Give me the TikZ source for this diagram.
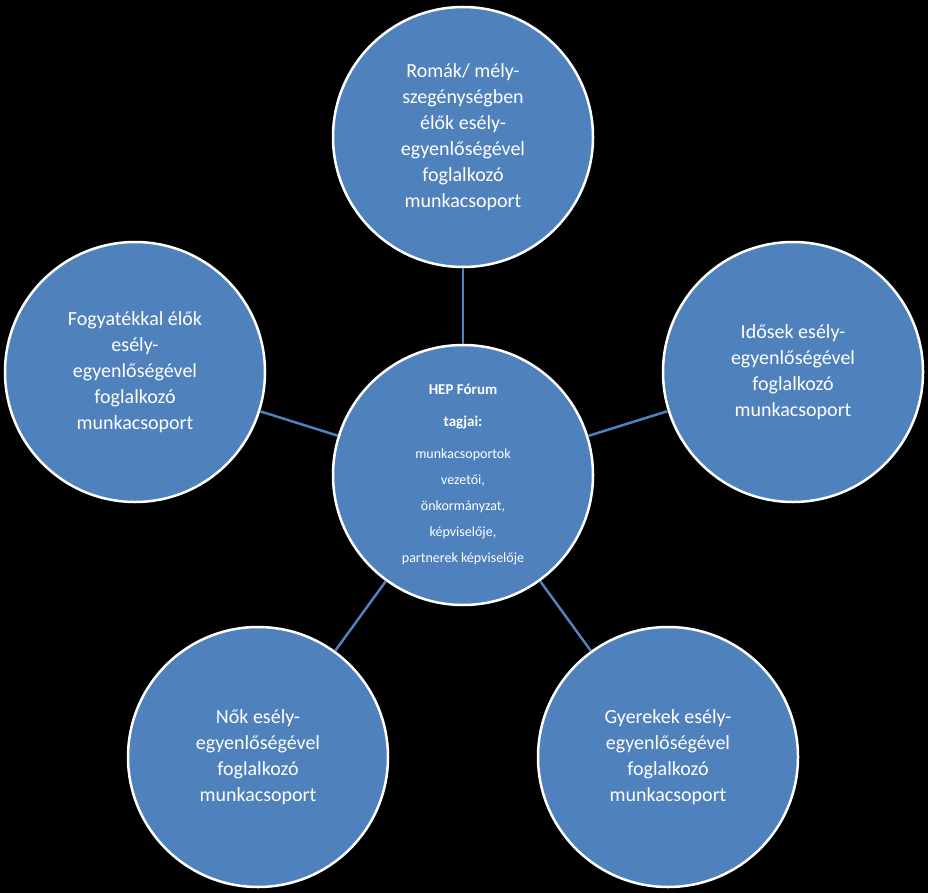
\documentclass[tikz,border=0pt]{standalone}
\usepackage{fontspec}
\setmainfont{Carlito}
\definecolor{cblue}{HTML}{4F81BD}
\begin{document}
\begin{tikzpicture}[x=1pt,y=-1pt,
  circ/.style={circle,fill=cblue,draw=white,line width=2.5pt,minimum size=260pt,inner sep=0pt,text=white,align=center,font=\fontsize{20}{26}\selectfont},
  link/.style={draw=cblue,line width=2.5pt}]
\fill[black] (0,0) rectangle (928,893);
\useasboundingbox (0,0) rectangle (928,893);
\node[circ] (c) at (463,475) {\fontsize{15}{18}\selectfont\textbf{HEP Fórum}\\[6pt]\fontsize{15}{18}\selectfont\textbf{tagjai:}\\[6pt]\fontsize{14}{18}\selectfont munkacsoportok\\ \fontsize{14}{18}\selectfont vezetői,\\ \fontsize{14}{18}\selectfont önkormányzat,\\ \fontsize{14}{18}\selectfont képviselője,\\ \fontsize{14}{18}\selectfont partnerek képviselője};
\node[circ] (t) at (463,137) {Romák/ mély-\\szegénységben\\élők esély-\\egyenlőségével\\foglalkozó\\munkacsoport};
\node[circ] (l) at (135,372) {Fogyatékkal élők\\esély-\\egyenlőségével\\foglalkozó\\munkacsoport};
\node[circ] (r) at (793,372) {Idősek esély-\\egyenlőségével\\foglalkozó\\munkacsoport};
\node[circ] (bl) at (258,757) {Nők esély-\\egyenlőségével\\foglalkozó\\munkacsoport};
\node[circ] (br) at (668,757) {Gyerekek esély-\\egyenlőségével\\foglalkozó\\munkacsoport};
\foreach \n in {t,l,r,bl,br} \draw[link] (c) -- (\n);
\end{tikzpicture}
\end{document}
